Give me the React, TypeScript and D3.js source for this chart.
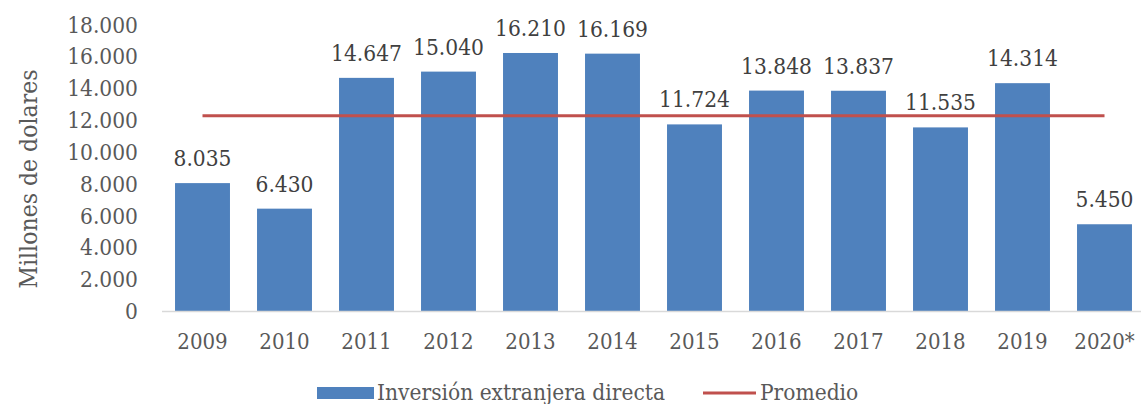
import { useEffect, useRef } from 'react';
import * as d3 from 'd3';

// Inversión extranjera directa, millones de dólares
const years = ['2009', '2010', '2011', '2012', '2013', '2014', '2015', '2016', '2017', '2018', '2019', '2020*'];
const ied = [8035, 6430, 14647, 15040, 16210, 16169, 11724, 13848, 13837, 11535, 14314, 5450];
const promedio = 12270;
const yTicks = [0, 2000, 4000, 6000, 8000, 10000, 12000, 14000, 16000, 18000];

const FONT = "'DejaVu Serif Condensed', 'DejaVu Serif', serif";
const TEXT = '#595959';
const BLUE = '#4f81bd';
const RED = '#c0504d';

const fmt = (v: number) => d3.format(',')(v).replace(/,/g, '.');

export default function App() {
    const ref = useRef<SVGSVGElement>(null);

    useEffect(() => {
        if (!ref.current) return;
        const svg = d3.select(ref.current);
        svg.selectAll('*').remove();

        const x = d3.scaleBand<string>()
            .domain(years)
            .range([161.5, 1145.5])
            .paddingInner(0.33)
            .paddingOuter(0.165);

        const y = d3.scaleLinear()
            .domain([0, 18000])
            .range([311, 24.5]);

        // y tick labels
        svg.append('g')
            .selectAll('text')
            .data(yTicks)
            .join('text')
            .attr('x', 138)
            .attr('y', d => y(d))
            .attr('dy', '0.36em')
            .attr('text-anchor', 'end')
            .attr('font-family', FONT)
            .attr('font-size', 22.5)
            .attr('fill', TEXT)
            .text(d => fmt(d));

        // y axis title
        svg.append('text')
            .attr('transform', `translate(37,${179}) rotate(-90)`)
            .attr('text-anchor', 'middle')
            .attr('font-family', FONT)
            .attr('font-size', 24.5)
            .attr('fill', TEXT)
            .text('Millones de dolares');

        // bars
        svg.append('g')
            .selectAll('rect')
            .data(ied)
            .join('rect')
            .attr('x', (_, i) => x(years[i])!)
            .attr('y', d => y(d))
            .attr('width', x.bandwidth())
            .attr('height', d => y(0) - y(d))
            .attr('fill', BLUE);

        // baseline
        svg.append('line')
            .attr('x1', 162).attr('x2', 1141)
            .attr('y1', y(0) + 0.5).attr('y2', y(0) + 0.5)
            .attr('stroke', '#d9d9d9')
            .attr('stroke-width', 1.5);

        // value labels
        svg.append('g')
            .selectAll('text')
            .data(ied)
            .join('text')
            .attr('x', (_, i) => x(years[i])! + x.bandwidth() / 2)
            .attr('y', d => y(d) - 17)
            .attr('text-anchor', 'middle')
            .attr('font-family', FONT)
            .attr('font-size', 22.5)
            .attr('fill', '#404040')
            .text(d => fmt(d));

        // x tick labels
        svg.append('g')
            .selectAll('text')
            .data(years)
            .join('text')
            .attr('x', d => x(d)! + x.bandwidth() / 2)
            .attr('y', 349)
            .attr('text-anchor', 'middle')
            .attr('font-family', FONT)
            .attr('font-size', 22)
            .attr('fill', TEXT)
            .text(d => d);

        // promedio line
        const line = d3.line<string>()
            .x(d => x(d)! + x.bandwidth() / 2)
            .y(() => y(promedio));
        svg.append('path')
            .attr('d', line(years))
            .attr('fill', 'none')
            .attr('stroke', RED)
            .attr('stroke-width', 3);

        // legend
        const lg = svg.append('g').attr('font-family', FONT).attr('font-size', 22.5).attr('fill', TEXT);
        lg.append('rect').attr('x', 317).attr('y', 387).attr('width', 57).attr('height', 12).attr('fill', BLUE);
        lg.append('text').attr('x', 377).attr('y', 400).text('Inversión extranjera directa');
        lg.append('line').attr('x1', 703).attr('x2', 756).attr('y1', 393).attr('y2', 393)
            .attr('stroke', RED).attr('stroke-width', 3);
        lg.append('text').attr('x', 760).attr('y', 400).text('Promedio');
    }, []);

    return (
        <svg
            ref={ref}
            width={1141}
            height={404}
            style={{ position: 'absolute', left: 0, top: 0, background: '#fff' }}
        />
    );
}
